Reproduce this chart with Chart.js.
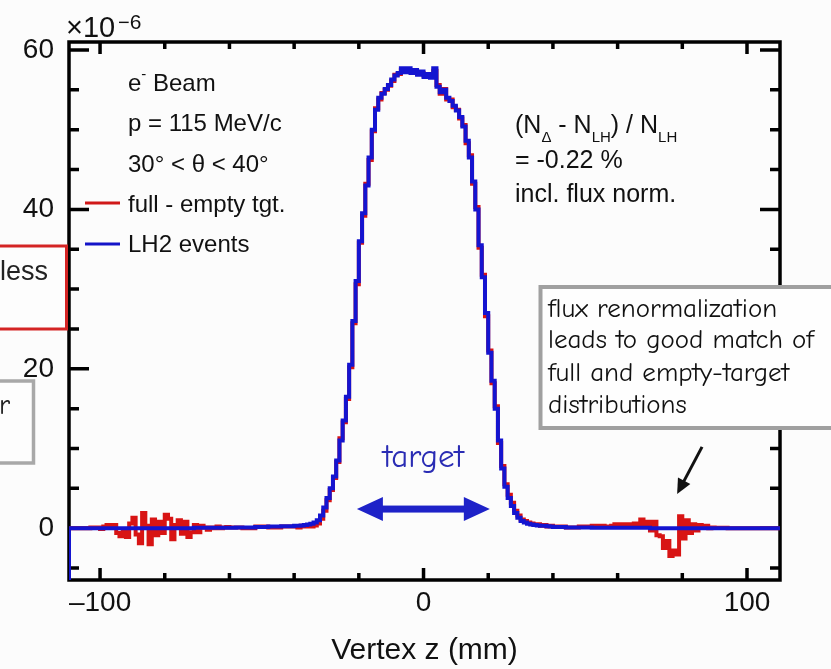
<!DOCTYPE html>
<html>
<head>
<meta charset="utf-8">
<script src="https://cdn.jsdelivr.net/npm/chart.js@4.4.0/dist/chart.umd.min.js"></script>
<style>
  html, body { margin: 0; padding: 0; background: #fcfcfc; }
</style>
</head>
<body>
<canvas id="vertexChart" width="831" height="669"></canvas>
<script>
// vertex z bins (mm), left edge of each step
var vertexZ = [
  -109.6, -109, -106, -103,
  -100, -99, -98, -97, -96, -95, -94, -93, -92, -91,
  -90, -89, -88, -87, -86, -85, -84, -83, -82, -81,
  -80, -79, -78, -77, -76, -75, -74, -73, -72, -71,
  -70, -69, -68, -67, -66, -65, -64, -63, -62, -61,
  -60, -59, -58,
  -56, -52, -48, -44,
  -40, -39, -38, -37, -36, -35, -34, -33, -32, -31,
  -30, -29, -28, -27, -26, -25, -24, -23, -22, -21,
  -20, -19, -18, -17, -16, -15, -14, -13, -12, -11,
  -10, -9, -8, -7, -6, -5, -4, -3, -2, -1,
  0, 1, 2, 3, 4, 5, 6, 7, 8, 9,
  10, 11, 12, 13, 14, 15, 16, 17, 18, 19,
  20, 21, 22, 23, 24, 25, 26, 27, 28, 29,
  30, 31, 32, 33, 34, 35, 36, 37, 38, 39,
  40,
  44, 48, 52, 56,
  58, 59, 60, 61, 62, 63, 64, 65, 66, 67,
  68, 69, 70, 71, 72, 73, 74, 75, 76, 77,
  78, 79, 80, 81, 82, 83, 84, 85, 86, 87,
  88, 89, 90,
  94, 100, 106, 110.2
];

// LH2 events (x10^-6)
var lh2Events = [
  -7, 0, 0, 0,
  0, 0, 0, 0, 0, 0, 0, 0, 0, 0,
  0, 0, 0, 0, 0, 0, 0, 0, 0, 0,
  0, 0, 0, 0, 0, 0, 0, 0, 0, 0,
  0.05, 0.05, 0.05, 0.05, 0.05, 0.05, 0.05, 0.05, 0.05, 0.05,
  0.05, 0.05, 0.05,
  0.1, 0.1, 0.15, 0.2,
  0.25, 0.3, 0.3, 0.35, 0.4, 0.45, 0.55, 0.7, 1.0, 1.6,
  2.6, 3.8, 5.0, 6.5, 8.5, 11.0, 13.5, 16.5, 20.5, 26.0,
  31.0, 36.0, 39.5, 43.0, 46.5, 50.0, 52.5, 54.0, 54.5, 55.1,
  55.6, 56.3, 56.8, 57.1, 57.7, 57.2, 57.7, 57.1, 57.5, 56.9,
  57.3, 56.6, 57.0, 56.5, 57.7, 55.4, 54.7, 55.0, 54.0, 53.6,
  53.0, 52.4, 51.6, 50.4, 48.6, 46.5, 43.5, 40.0, 35.5, 31.5,
  27.0, 22.0, 18.5, 15.0, 11.0, 7.5, 5.2, 3.8, 2.8, 1.9,
  1.3, 0.9, 0.7, 0.55, 0.45, 0.4, 0.35, 0.3, 0.3, 0.25,
  0.2,
  0.15, 0.1, 0.1, 0.05,
  0.05, 0.05, 0.05, 0.05, 0.05, 0.05, 0.05, 0.05, 0.05, 0.05,
  0.05, 0.05, 0.05, 0, 0, 0, 0, 0, 0, 0,
  0, 0, 0, 0, 0, 0, 0, 0, 0, 0,
  0, 0, 0,
  0, 0, 0, 0
];

// full - empty target (x10^-6)
var fullMinusEmpty = [
  0, 0, 0, 0,
  0.1, -0.1, 0.2, 0.4, 0.1, 0.4, -0.6, -1.0, -0.3, -1.1,
  0.6, 1.3, -0.8, -1.9, 1.9, 0.3, -2.0, 1.1, -0.9, 0.8,
  -0.6, 1.7, 1.2, -1.4, 0.4, 1.0, -0.7, 0.8, -1.1, -0.5,
  0.4, -0.5, 0.3, 0.1, -0.2, 0.1, 0.0, 0.2, 0.0, 0.1,
  0.15, 0.1, 0.1,
  0.1, 0.0, 0.2, 0.1,
  0.2, 0.25, 0.1, 0.3, 0.2, 0.3, 0.2, 0.35, 0.6, 1.2,
  2.2, 3.5, 4.8, 6.3, 8.3, 11.3, 13.3, 16.2, 20.2, 25.7,
  30.6, 35.8, 39.2, 43.2, 46.2, 49.8, 52.7, 53.8, 54.6, 55.0,
  55.5, 56.1, 56.9, 57.0, 57.5, 57.3, 57.5, 57.2, 57.3, 57.0,
  57.1, 56.8, 56.8, 56.6, 57.4, 55.6, 54.5, 55.1, 53.8, 53.8,
  52.8, 52.5, 51.4, 50.6, 48.3, 46.8, 43.2, 40.3, 35.2, 31.8,
  26.6, 22.3, 18.2, 15.3, 10.7, 7.8, 5.5, 4.2, 3.2, 2.2,
  1.6, 1.1, 0.9, 0.7, 0.6, 0.4, 0.5, 0.3, 0.4, 0.2,
  0.3,
  0.2, 0.1, 0.2, 0.3,
  0.2, 0.3, 0.5, 0.3, 0.5, 0.4, 0.5, 0.3, 0.6, 0.4,
  1.1, 0.5, 0.8, -0.3, 0.8, -0.9, -1.0, -2.5, -1.6, -3.5,
  -2.8, -3.3, 1.5, -1.3, 1.0, -0.6, 0.5, -0.3, 0.4, 0.1,
  0.3, 0.0, 0.1,
  0.05, 0, 0, 0
];

var xTickValues = [-100, -80, -60, -40, -20, 0, 20, 40, 60, 80, 100];
var yTickValues = [-5, 0, 5, 10, 15, 20, 25, 30, 35, 40, 45, 50, 55, 60];
var xLabelValues = [-100, 0, 100];
var xLabelText = ['\u2013100', '0', '100'];
var yLabelValues = [0, 20, 40, 60];

var sans = "'Liberation Sans', Arial, Helvetica, sans-serif";
var comic = "'Comic Sans MS', 'Comic Neue', 'DejaVu Sans', sans-serif";

Chart.defaults.font.family = sans;
Chart.defaults.color = '#111';

function toPoints(values) {
  return values.map(function (v, i) { return { x: vertexZ[i], y: v }; });
}

// draw text pieces one after the other (for sub/superscripts)
function drawRuns(ctx, x, y, runs) {
  runs.forEach(function (r) {
    ctx.font = r[1] + 'px ' + sans;
    ctx.fillText(r[0], x, y + r[2]);
    x += ctx.measureText(r[0]).width;
  });
}

// frame + inward ticks on all four sides
var frameTicks = {
  id: 'frameTicks',
  beforeDatasetsDraw: function (chart) {
    var ctx = chart.ctx, a = chart.chartArea;
    var xs = chart.scales.x, ys = chart.scales.y;
    ctx.save();
    ctx.strokeStyle = '#000';
    ctx.lineWidth = 3.5;
    ctx.beginPath();
    xs.ticks.forEach(function (t) {
      var px = xs.getPixelForValue(t.value);
      var len = t.value % 100 === 0 ? 12 : 7;
      ctx.moveTo(px, a.bottom); ctx.lineTo(px, a.bottom - len);
      ctx.moveTo(px, a.top); ctx.lineTo(px, a.top + len);
    });
    ys.ticks.forEach(function (t) {
      var py = ys.getPixelForValue(t.value);
      var len = t.value % 20 === 0 ? 20 : 10;
      ctx.moveTo(a.left, py); ctx.lineTo(a.left + len, py);
      ctx.moveTo(a.right, py); ctx.lineTo(a.right - len, py);
    });
    ctx.stroke();
    ctx.strokeRect(a.left, a.top, a.right - a.left, a.bottom - a.top);
    ctx.restore();
  }
};

// legend, labels and slide annotations
var annotations = {
  id: 'annotations',
  afterDraw: function (chart) {
    var ctx = chart.ctx;
    var xs = chart.scales.x, ys = chart.scales.y;
    ctx.save();
    ctx.fillStyle = '#111';
    ctx.textAlign = 'left';
    ctx.textBaseline = 'alphabetic';

    // axis multiplier
    drawRuns(ctx, 66, 37, [['\u00d710', 29, 0]]);
    drawRuns(ctx, 118, 29, [['\u2212', 20, 0], ['6', 21, 0]]);

    // legend block
    drawRuns(ctx, 128, 91, [['e', 24, 0], ['-', 15, -12]]);
    drawRuns(ctx, 153, 91, [['Beam', 24, 0]]);
    drawRuns(ctx, 128, 131, [['p = 115 MeV/c', 24, 0]]);
    drawRuns(ctx, 128, 172, [['30\u00b0 < \u03b8 < 40\u00b0', 24, 0]]);
    drawRuns(ctx, 128, 212, [['full - empty tgt.', 24, 0]]);
    drawRuns(ctx, 128, 252, [['LH2 events', 24, 0]]);
    ctx.lineWidth = 3;
    ctx.strokeStyle = '#d01818';
    ctx.beginPath(); ctx.moveTo(85, 203); ctx.lineTo(120, 203); ctx.stroke();
    ctx.strokeStyle = '#1414c8';
    ctx.beginPath(); ctx.moveTo(85, 244); ctx.lineTo(120, 244); ctx.stroke();

    // asymmetry text
    drawRuns(ctx, 515, 133, [['(N', 25, 0], ['\u0394', 15, 9], [' - N', 25, 0], ['LH', 15, 9],
      [') / N', 25, 0], ['LH', 15, 9]]);
    drawRuns(ctx, 515, 168, [['= -0.22 %', 25, 0]]);
    drawRuns(ctx, 515, 202, [['incl. flux norm.', 25, 0]]);

    // slide boxes cut at the left edge
    ctx.fillStyle = '#fdfdfd';
    ctx.fillRect(-5, 246, 71, 83);
    ctx.strokeStyle = '#d42424';
    ctx.lineWidth = 3;
    ctx.strokeRect(-5, 246, 71.5, 83);
    ctx.fillStyle = '#222';
    ctx.font = '27px ' + sans;
    ctx.fillText('less', 0, 280);

    ctx.fillStyle = '#fdfdfd';
    ctx.fillRect(-5, 381, 38, 82);
    ctx.strokeStyle = '#a8a8a8';
    ctx.lineWidth = 3.5;
    ctx.strokeRect(-5, 381, 38.5, 82);
    ctx.fillStyle = '#222';
    ctx.font = '28px ' + comic;
    ctx.fillText('r', -1, 414);

    // flux annotation box
    ctx.fillStyle = '#fefefe';
    ctx.fillRect(540, 287, 300, 141);
    ctx.strokeStyle = '#a0a0a0';
    ctx.lineWidth = 4;
    ctx.strokeRect(540.5, 287, 300, 141);
    ctx.fillStyle = '#111';
    ctx.font = '27px ' + comic;
    ctx.fillText('flux renormalization', 548, 317);
    ctx.fillText('leads to good match of', 548, 348);
    ctx.fillText('full and empty-target', 548, 381);
    ctx.fillText('distributions', 548, 413);

    // black arrow pointing at the dip
    var tx = xs.getPixelForValue(78.4), ty = ys.getPixelForValue(4.3);
    var sx = xs.getPixelForValue(86.1), sy = ys.getPixelForValue(10.2);
    var ang = Math.atan2(ty - sy, tx - sx);
    ctx.strokeStyle = '#111';
    ctx.fillStyle = '#111';
    ctx.lineWidth = 3;
    ctx.beginPath();
    ctx.moveTo(sx, sy);
    ctx.lineTo(tx - 10 * Math.cos(ang), ty - 10 * Math.sin(ang));
    ctx.stroke();
    ctx.beginPath();
    ctx.moveTo(tx, ty);
    ctx.lineTo(tx - 15 * Math.cos(ang) + 7 * Math.sin(ang), ty - 15 * Math.sin(ang) - 7 * Math.cos(ang));
    ctx.lineTo(tx - 15 * Math.cos(ang) - 7 * Math.sin(ang), ty - 15 * Math.sin(ang) + 7 * Math.cos(ang));
    ctx.closePath();
    ctx.fill();

    // target double arrow
    var lx = xs.getPixelForValue(-20.6), rx = xs.getPixelForValue(20.5);
    var ay = ys.getPixelForValue(2.4);
    ctx.fillStyle = '#1e22c8';
    ctx.fillRect(lx + 22, ay - 3.5, rx - lx - 44, 7);
    ctx.beginPath();
    ctx.moveTo(lx, ay); ctx.lineTo(lx + 26, ay - 12); ctx.lineTo(lx + 26, ay + 12); ctx.closePath();
    ctx.moveTo(rx, ay); ctx.lineTo(rx - 26, ay - 12); ctx.lineTo(rx - 26, ay + 12); ctx.closePath();
    ctx.fill();
    ctx.fillStyle = '#2a2cb4';
    ctx.font = '33px ' + comic;
    ctx.textAlign = 'center';
    ctx.fillText('target', (lx + rx) / 2, 467);

    ctx.restore();
  }
};

var ctx = document.getElementById('vertexChart');

var vertexChart = new Chart(ctx, {
  type: 'line',
  data: {
    datasets: [{
      label: 'LH2 events',
      data: toPoints(lh2Events),
      borderColor: '#1414d0',
      borderWidth: 4,
      stepped: 'after',
      pointRadius: 0,
      fill: false,
      order: 0
    }, {
      label: 'full - empty tgt.',
      data: toPoints(fullMinusEmpty),
      borderColor: '#d81414',
      borderWidth: 4,
      stepped: 'after',
      pointRadius: 0,
      fill: false,
      order: 1
    }]
  },
  options: {
    responsive: false,
    animation: false,
    layout: { padding: { left: 0, top: 42, right: 51, bottom: 0 } },
    plugins: {
      legend: { display: false },
      tooltip: { enabled: false }
    },
    scales: {
      x: {
        type: 'linear',
        min: -109.6,
        max: 110.2,
        grid: { display: false, drawTicks: false },
        border: { display: false },
        afterBuildTicks: function (s) {
          s.ticks = xTickValues.map(function (v) { return { value: v }; });
        },
        ticks: {
          autoSkip: false,
          maxRotation: 0,
          padding: 6,
          color: '#111',
          font: { size: 28 },
          callback: function (v) {
            var i = xLabelValues.indexOf(v);
            return i < 0 ? '' : xLabelText[i];
          }
        },
        title: {
          display: true,
          text: 'Vertex z (mm)',
          color: '#111',
          font: { size: 30 },
          padding: { top: 0, bottom: 0 }
        },
        afterFit: function (s) { s.height = 89; }
      },
      y: {
        type: 'linear',
        min: -6.5,
        max: 61.0,
        grid: { display: false, drawTicks: false },
        border: { display: false },
        afterBuildTicks: function (s) {
          s.ticks = yTickValues.map(function (v) { return { value: v }; });
        },
        ticks: {
          autoSkip: false,
          padding: 15,
          color: '#111',
          font: { size: 28 },
          callback: function (v) {
            return yLabelValues.indexOf(v) < 0 ? '' : String(v);
          }
        },
        afterFit: function (s) { s.width = 69; }
      }
    }
  },
  plugins: [frameTicks, annotations]
});
</script>
</body>
</html>
